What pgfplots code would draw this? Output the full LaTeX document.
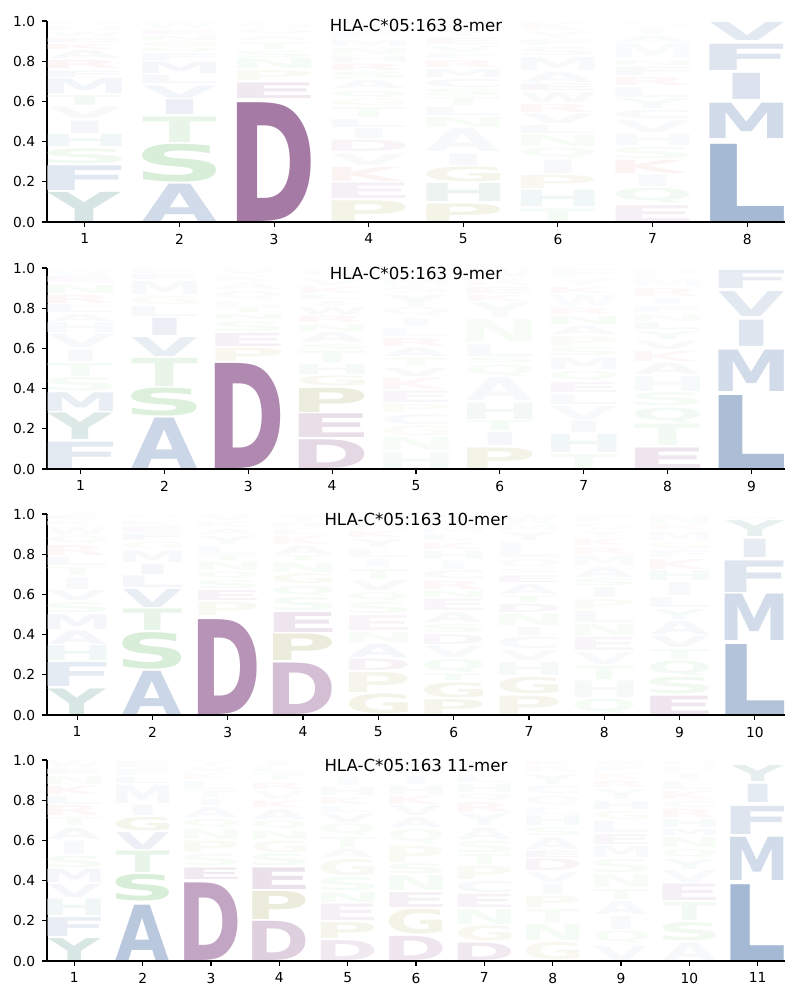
\documentclass[border=0pt]{standalone}
\usepackage{fontspec}
\setmainfont{DejaVu Sans}
\usepackage{graphicx}
\usepackage{xcolor}
\usepackage{pgfplots}
\pgfplotsset{compat=1.18}

% base colours of the letter groups
\definecolor{cBlue}{RGB}{70,110,165}
\definecolor{cPurple}{RGB}{110,40,110}
\definecolor{cGreen}{RGB}{60,170,60}
\definecolor{cBeige}{RGB}{150,150,60}
\definecolor{cRed}{RGB}{210,50,50}
\definecolor{cTeal}{RGB}{60,130,120}
\colorlet{lA}{cBlue}\colorlet{lV}{cBlue}\colorlet{lL}{cBlue}\colorlet{lI}{cBlue}
\colorlet{lM}{cBlue}\colorlet{lF}{cBlue}\colorlet{lW}{cBlue}\colorlet{lC}{cBlue}
\colorlet{lD}{cPurple}\colorlet{lE}{cPurple}
\colorlet{lS}{cGreen}\colorlet{lT}{cGreen}\colorlet{lN}{cGreen}\colorlet{lQ}{cGreen}
\colorlet{lP}{cBeige}\colorlet{lG}{cBeige}
\colorlet{lK}{cRed}\colorlet{lR}{cRed}
\colorlet{lY}{cTeal}\colorlet{lH}{cTeal}

% a glyph stretched so that its ink fills #2 x #3 pt
\newdimen\gL \newdimen\gT \newdimen\gR \newdimen\gB \newdimen\gW \newdimen\gH
\newbox\gboxa \newbox\gboxb
\newcount\gnum
\newcommand\logoletter[4]{%
  \begingroup
  \pgfkeys{/pgf/fpu=false}%
  \bfseries
  \edef\ch{#1}%
  \gnum=\XeTeXcharglyph\expandafter`\ch\relax
  \setbox\gboxa=\hbox{\ch}%
  \gL=\XeTeXglyphbounds1 \gnum
  \gT=\XeTeXglyphbounds2 \gnum
  \gR=\XeTeXglyphbounds3 \gnum
  \gB=\XeTeXglyphbounds4 \gnum
  \gW=\wd\gboxa \advance\gW-\gL \advance\gW-\gR
  \gH=\gT \advance\gH\gB
  \edef\wdd{#2}%
  \if I\ch \pgfmathsetmacro\wdd{#2*0.373}\fi
  \pgfmathsetmacro\hh{max(0.3,(#3)*100.5-0.9)}%
  \pgfmathsetmacro\sx{\wdd/\the\gW}%
  \pgfmathsetmacro\sy{\hh/\the\gH}%
  \pgfmathtruncatemacro\al{#4<10 ? #4*0.8 : #4}%
  \edef\cc{l\ch!\al!white}%
  \setbox\gboxb=\hbox{\kern-\sx\gL\raise\sy\gB\hbox{\expandafter\color\expandafter{\cc}\scalebox{\sx}[\sy]{\box\gboxa}}\kern-\sx\gR}%
  \ht\gboxb=\hh pt \dp\gboxb=0pt
  \box\gboxb
  \endgroup}

\pgfplotsset{
  logo/.style={
    scale only axis, width=369pt, height=100.5pt,
    xmin=0.6, ymin=0, ymax=1, clip=false, axis on top,
    axis x line*=bottom, axis y line*=left,
    axis line style={line width=0.55pt},
    tick align=outside, major tick length=2.4pt,
    tick style={black, line width=0.55pt},
    ytick={0,0.2,0.4,0.6,0.8,1.0},
    yticklabel style={/pgf/number format/.cd, fixed, fixed zerofill, precision=1},
    /pgf/number format/assume math mode=true,
    tick label style={font=\fontsize{6.9}{8}\selectfont},
    title style={at={(0.5,1)}, anchor=base, yshift=-11.5pt, font=\fontsize{8.3}{10}\selectfont},
  },
  letters/.style={
    draw=none, mark=none,
    point meta=explicit symbolic,
    visualization depends on={value \thisrow{t}\as\logt},
    visualization depends on={value \thisrow{b}\as\logb},
    visualization depends on={value \thisrow{a}\as\loga},
    nodes near coords={\logoletter{\pgfplotspointmeta}{\lw}{\logt-\logb}{\loga}},
    every node near coord/.append style={anchor=south, inner sep=0pt, outer sep=0pt, yshift=0.45pt},
  },
}
% the left spine again, over the letters of the first position
\newcommand\spine{\draw[black, line width=0.55pt] (rel axis cs:0,0) -- (rel axis cs:0,1);}

\begin{document}
\begin{tikzpicture}
\path[use as bounding box] (-23.5pt,-500pt) rectangle (376.5pt,0pt);

\def\lw{36.9}
\begin{axis}[logo, at={(0pt,-111pt)}, xmax=8.4, xtick={1,...,8},
  title={HLA-C*05:163 8-mer}]
\addplot[letters] table[x=x, y=b, meta=l] {
x b t a l
1 0 .154 21 Y
1 .154 .286 16 F
1 .286 .369 9 S
1 .369 .438 9 H
1 .438 .509 8 I
1 .509 .575 7 V
1 .575 .633 8 T
1 .633 .716 9 M
1 .716 .757 7 F
1 .757 .807 7 R
1 .807 .856 5 A
1 .856 .89 5 K
1 .89 .92 4 E
1 .92 .95 4 W
1 .95 .975 3 N
1 .975 1 3 Q
2 0 .195 25 A
2 .195 .393 20 S
2 .393 .529 12 T
2 .529 .612 10 I
2 .612 .683 9 V
2 .683 .732 7 L
2 .732 .798 8 M
2 .798 .84 6 F
2 .84 .87 5 Q
2 .87 .9 5 G
2 .9 .93 4 N
2 .93 .96 4 E
2 .96 1 3 W
3 0 .6 62 D
3 .612 .699 10 E
3 .699 .757 7 P
3 .757 .815 7 N
3 .815 .856 5 S
3 .856 .9 5 T
3 .9 .93 4 A
3 .93 .96 4 Q
3 .96 1 3 G
4 0 .112 12 P
4 .112 .198 9 E
4 .198 .278 8 K
4 .278 .344 6 V
4 .344 .41 7 D
4 .41 .468 6 I
4 .468 .517 5 L
4 .517 .575 6 T
4 .575 .617 5 G
4 .617 .658 5 Q
4 .658 .707 5 A
4 .707 .749 5 S
4 .749 .79 5 R
4 .79 .831 4 H
4 .831 .87 4 N
4 .87 .91 4 M
4 .91 .95 3 F
4 .95 1 3 Y
5 0 .096 12 P
5 .096 .195 10 H
5 .195 .278 10 G
5 .278 .344 7 I
5 .344 .468 7 A
5 .468 .526 5 N
5 .526 .575 5 L
5 .575 .625 5 T
5 .625 .666 5 S
5 .666 .716 5 C
5 .716 .765 5 M
5 .765 .807 5 R
5 .807 .84 4 F
5 .84 .88 4 V
5 .88 .92 4 E
5 .92 .96 3 Y
5 .96 1 3 Q
6 0 .071 7 T
6 .071 .162 9 H
6 .162 .236 9 P
6 .236 .311 7 I
6 .311 .369 6 Q
6 .369 .435 6 N
6 .435 .484 6 L
6 .484 .542 6 V
6 .542 .592 6 R
6 .592 .65 6 W
6 .65 .691 5 E
6 .691 .749 5 A
6 .749 .823 5 M
6 .823 .873 4 S
6 .873 .91 4 F
6 .91 .95 3 Y
6 .95 1 3 K
7 0 .088 9 E
7 .088 .17 8 Q
7 .17 .236 6 I
7 .236 .311 8 K
7 .311 .377 6 S
7 .377 .443 6 H
7 .443 .509 6 V
7 .509 .559 6 C
7 .559 .617 6 Y
7 .617 .674 5 L
7 .674 .724 5 R
7 .724 .774 5 F
7 .774 .807 4 N
7 .807 .889 4 M
7 .889 .93 4 A
7 .93 .97 3 T
7 .97 1 3 G
8 0 .393 48 L
8 .41 .595 25 M
8 .605 .744 19 I
8 .749 .889 18 F
8 .898 .997 15 V
};
\spine
\end{axis}

\def\lw{32.707}
\begin{axis}[logo, at={(0pt,-234.5pt)}, xmax=9.4, xtick={1,...,9},
  title={HLA-C*05:163 9-mer}]
\addplot[letters] table[x=x, y=b, meta=l] {
x b t a l
1 0 .14 15 F
1 .14 .281 18 Y
1 .281 .383 12 M
1 .383 .458 7 S
1 .458 .532 7 T
1 .532 .598 7 I
1 .598 .673 7 V
1 .673 .731 6 H
1 .731 .772 6 A
1 .772 .821 5 L
1 .821 .871 5 R
1 .871 .921 5 N
1 .921 .96 4 E
1 .96 1 3 W
2 0 .26 28 A
2 .26 .408 18 S
2 .408 .557 12 T
2 .557 .66 12 V
2 .66 .755 10 I
2 .755 .813 7 L
2 .813 .863 6 G
2 .863 .937 6 M
2 .937 .97 4 E
2 .97 1 3 F
3 0 .532 55 D
3 .532 .607 9 P
3 .607 .681 9 E
3 .681 .739 5 S
3 .739 .772 5 N
3 .772 .805 5 T
3 .805 .838 4 L
3 .838 .888 4 Q
3 .888 .93 4 A
3 .93 .965 3 K
3 .965 1 3 V
4 0 .152 18 D
4 .152 .279 15 E
4 .279 .408 17 P
4 .408 .466 9 G
4 .466 .524 7 H
4 .524 .59 7 T
4 .59 .623 5 S
4 .623 .681 6 A
4 .681 .722 5 N
4 .722 .764 6 R
4 .764 .805 5 W
4 .805 .838 4 I
4 .838 .87 4 L
4 .87 .91 4 K
4 .91 .95 3 V
4 .95 1 3 Q
5 0 .086 7 H
5 .086 .16 6 N
5 .16 .218 6 G
5 .218 .276 5 C
5 .276 .326 6 P
5 .326 .392 6 E
5 .392 .458 5 K
5 .458 .507 5 V
5 .507 .557 5 T
5 .557 .607 5 A
5 .607 .656 5 R
5 .656 .706 4 L
5 .706 .755 4 I
5 .755 .805 4 Q
5 .805 .871 4 Y
5 .871 .91 3 S
5 .91 .95 3 M
5 .95 1 3 F
6 0 .111 12 P
6 .111 .185 8 I
6 .185 .243 7 T
6 .243 .334 8 H
6 .334 .458 7 A
6 .458 .524 6 Q
6 .524 .557 5 S
6 .557 .623 5 L
6 .623 .747 5 N
6 .747 .83 4 Y
6 .83 .871 4 K
6 .871 .91 4 E
6 .91 .95 3 R
6 .95 1 3 W
7 0 .078 7 T
7 .078 .177 9 H
7 .177 .243 7 I
7 .243 .317 6 V
7 .317 .375 6 L
7 .375 .433 6 E
7 .433 .491 6 Q
7 .491 .557 6 M
7 .557 .607 5 S
7 .607 .664 5 P
7 .664 .714 5 A
7 .714 .764 5 N
7 .764 .805 4 R
7 .805 .871 4 W
7 .871 .91 4 K
7 .91 .95 3 Y
7 .95 1 3 F
8 0 .111 12 E
8 .111 .226 8 T
8 .226 .309 8 Q
8 .309 .383 7 S
8 .383 .466 6 H
8 .466 .532 7 A
8 .532 .59 6 K
8 .59 .64 5 V
8 .64 .689 5 Y
8 .689 .731 5 L
8 .731 .772 4 N
8 .772 .813 4 F
8 .813 .855 4 I
8 .855 .904 4 R
8 .904 .95 3 M
8 .95 1 3 P
9 0 .372 45 L
9 .383 .598 25 M
9 .607 .747 17 I
9 .755 .888 15 V
9 .896 .995 13 F
};
\spine
\end{axis}

\def\lw{29.37}
\begin{axis}[logo, at={(0pt,-357.5pt)}, xmax=10.4, xtick={1,...,10},
  title={HLA-C*05:163 10-mer}]
\addplot[letters] table[x=x, y=b, meta=l] {
x b t a l
1 0 .136 20 Y
1 .136 .265 14 F
1 .265 .348 9 H
1 .348 .423 8 A
1 .423 .506 8 M
1 .506 .564 7 S
1 .564 .622 7 V
1 .622 .688 6 I
1 .688 .738 6 T
1 .738 .788 5 L
1 .788 .846 5 R
1 .846 .896 4 Q
1 .896 .94 4 W
1 .94 .97 3 K
1 .97 1 3 E
2 0 .224 28 A
2 .224 .415 20 S
2 .415 .531 12 T
2 .531 .63 12 V
2 .63 .697 8 L
2 .697 .755 8 I
2 .755 .821 7 M
2 .821 .862 6 G
2 .862 .904 5 F
2 .904 .94 4 E
2 .94 .97 3 K
2 .97 1 3 Q
3 0 .481 50 D
3 .489 .564 8 P
3 .564 .622 8 E
3 .622 .672 6 S
3 .672 .713 5 Q
3 .713 .763 5 N
3 .763 .796 5 T
3 .796 .846 4 L
3 .846 .896 4 Y
3 .896 .93 4 A
3 .93 .965 3 K
3 .965 1 3 V
4 0 .265 30 D
4 .265 .406 18 P
4 .406 .514 12 E
4 .514 .589 7 S
4 .589 .647 7 Q
4 .647 .705 7 G
4 .705 .763 6 N
4 .763 .796 5 T
4 .796 .846 5 A
4 .846 .896 4 K
4 .896 .93 4 L
4 .93 .96 3 R
4 .96 1 3 Y
5 0 .108 12 G
5 .108 .216 10 P
5 .216 .282 8 D
5 .282 .357 8 A
5 .357 .415 6 N
5 .415 .498 7 E
5 .498 .564 5 S
5 .564 .614 5 Q
5 .614 .672 5 V
5 .672 .73 5 T
5 .73 .779 4 I
5 .779 .829 4 L
5 .829 .879 4 Y
5 .879 .92 4 K
5 .92 .96 3 H
5 .96 1 3 F
6 0 .083 10 P
6 .083 .166 10 G
6 .166 .207 7 T
6 .207 .282 7 Q
6 .282 .348 6 V
6 .348 .406 6 D
6 .406 .456 6 S
6 .456 .514 6 A
6 .514 .58 6 E
6 .58 .622 5 N
6 .622 .672 5 R
6 .672 .721 5 C
6 .721 .771 4 I
6 .771 .821 4 H
6 .821 .862 4 K
6 .862 .9 4 L
6 .9 .94 3 M
6 .94 .97 3 Y
6 .97 1 3 F
7 0 .1 10 P
7 .1 .191 10 G
7 .191 .265 7 H
7 .265 .323 6 V
7 .323 .39 6 C
7 .39 .439 6 I
7 .439 .506 6 N
7 .506 .556 6 D
7 .556 .597 5 T
7 .597 .655 5 A
7 .655 .697 5 E
7 .697 .73 4 S
7 .73 .779 4 Q
7 .779 .862 4 L
7 .862 .912 4 Y
7 .912 .95 3 M
7 .95 1 3 W
8 0 .083 7 Q
8 .083 .174 7 H
8 .174 .249 7 T
8 .249 .315 6 V
8 .315 .39 6 E
8 .39 .456 6 N
8 .456 .522 5 L
8 .522 .58 5 P
8 .58 .638 5 I
8 .638 .68 5 S
8 .68 .738 5 A
8 .738 .796 4 M
8 .796 .837 4 R
8 .837 .879 4 K
8 .879 .92 3 Y
8 .92 .96 3 G
8 .96 1 3 F
9 0 .1 12 E
9 .1 .191 9 S
9 .191 .274 8 Q
9 .274 .332 7 T
9 .332 .398 7 V
9 .398 .473 7 A
9 .473 .531 5 Y
9 .531 .589 5 L
9 .589 .663 5 I
9 .663 .721 5 H
9 .721 .779 5 K
9 .779 .821 4 F
9 .821 .862 4 G
9 .862 .912 4 M
9 .912 .95 3 R
9 .95 1 3 N
10 0 .357 42 L
10 .365 .605 25 M
10 .605 .771 18 F
10 .779 .879 13 I
10 .882 .97 12 Y
10 .97 .99 4 W
};
\spine
\end{axis}

\def\lw{26.65}
\begin{axis}[logo, at={(0pt,-480.5pt)}, xmax=11.4, xtick={1,...,11},
  title={HLA-C*05:163 11-mer}]
\addplot[letters] table[x=x, y=b, meta=l] {
x b t a l
1 0 .118 20 Y
1 .118 .221 12 F
1 .221 .312 9 H
1 .312 .386 8 V
1 .386 .461 8 M
1 .461 .527 7 S
1 .527 .602 6 I
1 .602 .668 7 A
1 .668 .718 6 T
1 .718 .776 6 R
1 .776 .826 5 L
1 .826 .876 5 K
1 .876 .925 4 N
1 .925 .96 4 E
1 .96 1 3 W
2 0 .284 38 A
2 .295 .436 20 S
2 .436 .552 12 T
2 .552 .645 10 V
2 .645 .72 10 G
2 .72 .78 7 I
2 .78 .88 7 M
2 .88 .92 5 L
2 .92 .96 4 F
2 .96 1 3 E
3 0 .395 42 D
3 .403 .469 10 E
3 .469 .536 6 S
3 .536 .602 7 P
3 .602 .66 6 N
3 .66 .71 5 Q
3 .71 .768 5 A
3 .768 .809 4 I
3 .809 .851 4 T
3 .851 .9 4 L
3 .9 .94 3 K
3 .94 .97 3 V
3 .97 1 3 Y
4 0 .204 22 D
4 .204 .353 18 P
4 .353 .469 14 E
4 .469 .536 7 S
4 .536 .602 7 G
4 .602 .652 6 N
4 .652 .701 5 Q
4 .701 .76 5 A
4 .76 .801 5 K
4 .801 .851 4 V
4 .851 .892 4 R
4 .892 .934 4 T
4 .934 .97 3 L
4 .97 1 3 I
5 0 .108 10 D
5 .108 .196 10 P
5 .196 .287 9 E
5 .287 .345 7 N
5 .345 .42 7 S
5 .42 .511 8 G
5 .511 .561 5 A
5 .561 .619 5 T
5 .619 .685 5 Q
5 .685 .735 5 V
5 .735 .776 4 L
5 .776 .818 4 K
5 .818 .867 4 H
5 .867 .917 4 I
5 .917 .96 3 Y
5 .96 1 3 F
6 0 .129 12 D
6 .129 .262 12 G
6 .262 .345 9 E
6 .345 .428 7 N
6 .428 .486 7 S
6 .486 .577 7 P
6 .577 .66 6 Q
6 .66 .718 5 A
6 .718 .776 5 V
6 .776 .826 5 K
6 .826 .876 4 H
6 .876 .925 4 I
6 .925 .96 3 L
6 .96 1 3 T
7 0 .096 10 D
7 .096 .179 9 G
7 .179 .262 7 N
7 .262 .337 8 E
7 .337 .403 7 C
7 .403 .478 7 P
7 .478 .536 6 T
7 .536 .602 6 S
7 .602 .668 5 A
7 .668 .735 5 Y
7 .735 .793 5 R
7 .793 .834 4 Q
7 .834 .884 4 H
7 .884 .93 4 L
7 .93 .965 3 K
7 .965 1 3 M
8 0 .096 9 G
8 .096 .187 7 N
8 .187 .262 6 T
8 .262 .328 7 P
8 .328 .386 6 I
8 .386 .444 6 V
8 .444 .511 7 D
8 .511 .552 6 E
8 .552 .619 5 A
8 .619 .668 5 S
8 .668 .726 5 H
8 .726 .768 4 L
8 .768 .826 4 Q
8 .826 .876 4 C
8 .876 .934 4 Y
8 .934 .97 3 R
8 .97 1 3 K
9 0 .08 7 V
9 .08 .154 6 Q
9 .154 .229 6 I
9 .229 .303 6 A
9 .303 .362 6 T
9 .362 .436 6 N
9 .436 .511 6 S
9 .511 .577 6 M
9 .577 .635 6 E
9 .635 .701 5 L
9 .701 .751 5 G
9 .751 .801 5 H
9 .801 .859 4 Y
9 .859 .9 4 R
9 .9 .94 3 K
9 .94 .97 3 F
9 .97 1 3 W
10 0 .096 7 A
10 .096 .196 9 S
10 .196 .295 8 T
10 .295 .386 9 E
10 .386 .453 6 V
10 .453 .511 6 Y
10 .511 .561 5 Q
10 .561 .619 5 N
10 .619 .66 5 M
10 .66 .71 5 H
10 .71 .76 5 R
10 .76 .801 4 C
10 .801 .851 4 K
10 .851 .9 4 L
10 .9 .94 3 I
10 .94 .97 3 F
10 .97 1 3 G
11 0 .386 48 L
11 .395 .619 25 M
11 .627 .776 18 F
11 .784 .884 14 I
11 .887 .975 13 Y
};
\spine
\end{axis}
\end{tikzpicture}
\end{document}
